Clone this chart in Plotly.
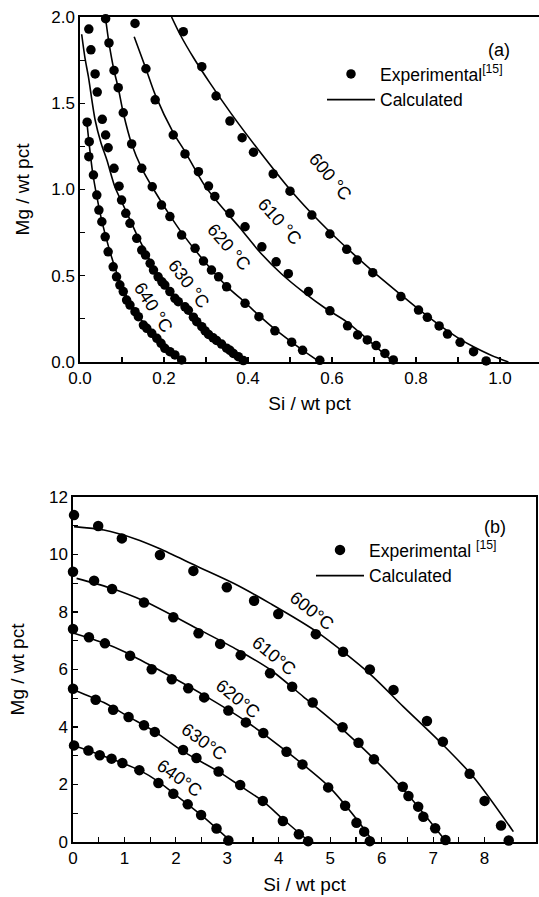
import plotly.graph_objects as go

# ---------------- panel (a) : experimental ----------------
a600_si = [0.246,0.290,0.324,0.357,0.386,0.413,0.460,0.500,0.552,0.595,0.635,0.660,0.697,0.764,0.806,0.827,0.855,0.875,0.905,0.937,0.967]
a600_mg = [1.915,1.712,1.542,1.397,1.300,1.216,1.090,0.990,0.852,0.742,0.653,0.591,0.518,0.379,0.301,0.259,0.209,0.162,0.114,0.060,0.006]
a610_si = [0.131,0.157,0.179,0.222,0.250,0.282,0.306,0.321,0.357,0.393,0.433,0.467,0.496,0.544,0.595,0.637,0.661,0.684,0.705,0.726,0.746]
a610_mg = [1.963,1.700,1.520,1.316,1.206,1.103,1.020,0.960,0.862,0.784,0.668,0.581,0.512,0.408,0.297,0.210,0.157,0.128,0.095,0.050,0.012]
a620_si = [0.061,0.069,0.081,0.091,0.103,0.123,0.147,0.172,0.194,0.214,0.242,0.274,0.294,0.313,0.330,0.349,0.393,0.426,0.464,0.504,0.530,0.571]
a620_mg = [1.990,1.850,1.690,1.590,1.445,1.264,1.123,1.016,0.910,0.843,0.736,0.659,0.585,0.533,0.494,0.436,0.340,0.263,0.181,0.115,0.068,0.010]
a630_si = [0.021,0.026,0.036,0.041,0.053,0.061,0.067,0.081,0.093,0.099,0.109,0.119,0.135,0.147,0.156,0.167,0.175,0.186,0.195,0.202,0.214,0.226,0.234,0.250,0.258,0.270,0.278,0.290,0.298,0.306,0.317,0.325,0.337,0.349,0.357,0.365,0.377,0.389]
a630_mg = [1.930,1.810,1.670,1.565,1.407,1.316,1.242,1.123,1.019,0.939,0.862,0.804,0.717,0.649,0.620,0.572,0.533,0.494,0.465,0.446,0.408,0.369,0.350,0.320,0.300,0.260,0.234,0.205,0.180,0.160,0.140,0.125,0.104,0.080,0.068,0.050,0.031,0.008]
a640_si = [0.017,0.022,0.021,0.032,0.040,0.045,0.052,0.060,0.067,0.079,0.087,0.095,0.103,0.111,0.119,0.131,0.139,0.151,0.159,0.171,0.183,0.193,0.202,0.214,0.226,0.242]
a640_mg = [1.390,1.277,1.190,1.084,0.968,0.881,0.813,0.726,0.639,0.552,0.494,0.446,0.408,0.359,0.330,0.292,0.263,0.214,0.195,0.166,0.137,0.108,0.079,0.060,0.041,0.012]

# ---------------- panel (a) : calculated ----------------
c600_si = [0.218,0.238,0.270,0.310,0.360,0.420,0.500,0.550,0.600,0.650,0.700,0.764,0.800,0.855,0.900,0.937,0.980,1.020]
c600_mg = [2.000,1.900,1.765,1.615,1.440,1.245,1.000,0.865,0.742,0.628,0.520,0.390,0.318,0.215,0.140,0.088,0.038,0.000]
c610_si = [0.129,0.157,0.179,0.222,0.250,0.295,0.330,0.380,0.429,0.480,0.532,0.585,0.635,0.690,0.746]
c610_mg = [1.886,1.700,1.550,1.330,1.220,1.030,0.920,0.780,0.635,0.510,0.405,0.310,0.233,0.120,0.000]
c620_si = [0.061,0.069,0.081,0.091,0.103,0.123,0.147,0.178,0.214,0.242,0.294,0.349,0.393,0.426,0.464,0.504,0.535,0.571]
c620_mg = [1.990,1.850,1.690,1.590,1.445,1.264,1.123,0.990,0.850,0.750,0.590,0.440,0.345,0.270,0.190,0.115,0.060,0.000]
c630_si = [0.004,0.012,0.020,0.036,0.050,0.064,0.083,0.099,0.120,0.135,0.160,0.186,0.210,0.235,0.260,0.290,0.320,0.350,0.389]
c630_mg = [1.900,1.760,1.654,1.403,1.270,1.171,1.016,0.930,0.820,0.740,0.620,0.500,0.415,0.350,0.280,0.205,0.140,0.075,0.000]
c640_si = [0.016,0.022,0.030,0.040,0.050,0.060,0.075,0.090,0.110,0.130,0.155,0.180,0.205,0.225,0.245]
c640_mg = [1.400,1.260,1.100,0.960,0.840,0.740,0.610,0.500,0.385,0.300,0.215,0.145,0.085,0.040,0.000]

# ---------------- panel (b) : experimental ----------------
b600_si = [0.02,0.49,0.95,1.69,2.34,2.99,3.52,3.99,4.72,5.25,5.77,6.23,6.88,7.19,7.71,8.00,8.32,8.47]
b600_mg = [11.37,10.99,10.56,9.98,9.43,8.86,8.39,7.93,7.23,6.62,6.00,5.29,4.21,3.49,2.37,1.43,0.57,0.05]
b610_si = [0.00,0.41,0.76,1.38,1.95,2.44,2.86,3.26,3.83,4.26,4.66,5.24,5.55,5.85,6.41,6.52,6.71,6.81,7.04,7.24]
b610_mg = [9.40,9.09,8.80,8.33,7.82,7.26,6.89,6.50,5.87,5.40,4.85,3.99,3.45,2.88,1.92,1.60,1.23,0.88,0.48,0.07]
b620_si = [0.00,0.31,0.62,1.11,1.53,1.92,2.24,2.55,3.02,3.36,3.70,4.15,4.46,4.96,5.29,5.51,5.66,5.77]
b620_mg = [7.41,7.12,6.91,6.48,6.01,5.66,5.35,5.03,4.57,4.16,3.79,3.14,2.70,1.90,1.26,0.67,0.36,0.03]
b630_si = [0.00,0.44,0.78,1.08,1.38,1.59,2.14,2.40,2.83,3.25,3.69,4.08,4.39,4.57]
b630_mg = [5.33,4.95,4.60,4.35,4.06,3.83,3.20,2.92,2.45,1.98,1.43,0.73,0.27,0.03]
b640_si = [0.02,0.30,0.52,0.75,0.96,1.29,1.66,1.95,2.23,2.49,2.79,3.02]
b640_mg = [3.36,3.18,3.02,2.90,2.75,2.50,2.05,1.68,1.31,0.94,0.47,0.05]

# ---------------- panel (b) : calculated ----------------
d600_si = [0.02,0.60,1.20,1.69,2.40,3.12,3.83,4.74,5.77,6.42,7.13,7.78,8.56]
d600_mg = [10.97,10.85,10.55,10.20,9.60,9.00,8.30,7.31,5.85,4.71,3.49,2.27,0.36]
d610_si = [0.07,0.70,1.37,2.47,3.20,3.83,4.48,5.25,5.84,6.49,7.26]
d610_mg = [9.17,8.85,8.39,7.37,6.68,6.00,5.05,3.90,2.91,1.69,0.00]
d620_si = [0.02,0.60,1.00,1.53,2.55,3.36,4.15,4.96,5.51,5.84]
d620_mg = [7.26,6.92,6.62,6.12,5.10,4.20,3.15,1.95,0.80,0.00]
d630_si = [0.02,0.60,1.08,1.59,2.14,2.83,3.25,3.69,4.08,4.60]
d630_mg = [5.29,4.85,4.36,3.84,3.15,2.45,1.95,1.42,0.80,0.00]
d640_si = [0.02,0.50,0.96,1.29,1.66,1.95,2.49,3.08]
d640_mg = [3.36,3.05,2.75,2.50,2.10,1.70,0.94,0.00]

temps = ["600", "610", "620", "630", "640"]

FONT = "Liberation Sans, Arial, sans-serif"
BLACK = "#000000"

fig = go.Figure()

exp_a = [(a600_si, a600_mg), (a610_si, a610_mg), (a620_si, a620_mg), (a630_si, a630_mg), (a640_si, a640_mg)]
calc_a = [(c600_si, c600_mg), (c610_si, c610_mg), (c620_si, c620_mg), (c630_si, c630_mg), (c640_si, c640_mg)]
exp_b = [(b600_si, b600_mg), (b610_si, b610_mg), (b620_si, b620_mg), (b630_si, b630_mg), (b640_si, b640_mg)]
calc_b = [(d600_si, d600_mg), (d610_si, d610_mg), (d620_si, d620_mg), (d630_si, d630_mg), (d640_si, d640_mg)]

def add_panel(exp, calc, xa, ya, leg, expname, msize):
    for i, (sx, sy) in enumerate(exp):
        fig.add_trace(go.Scatter(x=sx, y=sy, mode="markers", xaxis=xa, yaxis=ya,
                                 marker=dict(color=BLACK, size=msize, line=dict(width=0)),
                                 name=expname, legend=leg, showlegend=(i == 0),
                                 legendrank=1, cliponaxis=False))
    for i, (sx, sy) in enumerate(calc):
        fig.add_trace(go.Scatter(x=sx, y=sy, mode="lines", xaxis=xa, yaxis=ya,
                                 line=dict(color=BLACK, width=1.6, shape="spline", smoothing=0.8),
                                 name="Calculated", legend=leg, showlegend=(i == 0),
                                 legendrank=2))

add_panel(exp_a, calc_a, "x", "y", "legend", "Experimental<sup>[15]</sup>", 9.5)
add_panel(exp_b, calc_b, "x2", "y2", "legend2", "Experimental <sup>[15]</sup>", 10.5)

# geometry (pixels) -> domains
W, H = 539, 897
ML, MR, MT, MB = 73, 0, 17, 55
PW, PH = W - ML - MR, H - MT - MB

def dx(p):
    return (p - ML) / PW

def dy(p):
    return 1 - (p - MT) / PH

axis_common = dict(showline=True, linecolor=BLACK, linewidth=1.6, ticks="inside",
                   ticklen=5, tickwidth=1.2, tickcolor=BLACK, showgrid=False, zeroline=False,
                   tickfont=dict(family=FONT, size=17, color=BLACK),
                   title_font=dict(family=FONT, size=19, color=BLACK), automargin=False)

fig.update_layout(
    width=W, height=H, margin=dict(l=ML, r=MR, t=MT, b=MB),
    paper_bgcolor="white", plot_bgcolor="white",
    font=dict(family=FONT, color=BLACK),
    xaxis=dict(domain=[dx(80), 1.0], range=[0, (539 - 80) / 420], dtick=0.2, tick0=0,
               tickformat=".1f", mirror=True, anchor="y",
               minor=dict(ticks="inside", ticklen=5, dtick=0.1, tickcolor=BLACK),
               title=dict(text="Si / wt pct", standoff=9), **axis_common),
    yaxis=dict(domain=[dy(362), dy(17)], range=[0, 2.0], dtick=0.5, tick0=0,
               tickformat=".1f", mirror=False, anchor="x",
               minor=dict(ticks="inside", ticklen=5, dtick=0.25, tickcolor=BLACK),
               title=dict(text="Mg / wt pct", standoff=17), **axis_common),
    xaxis2=dict(domain=[dx(73), dx(536)], range=[0, 9], dtick=1, tick0=0, mirror=True,
                anchor="y2",
                minor=dict(ticks="inside", ticklen=5, dtick=0.5, tickcolor=BLACK),
                title=dict(text="Si / wt pct", standoff=10), **axis_common),
    yaxis2=dict(domain=[dy(842), dy(497)], range=[0, 12], dtick=2, tick0=0, mirror=True,
                anchor="x2",
                minor=dict(ticks="inside", ticklen=5, dtick=1, tickcolor=BLACK),
                title=dict(text="Mg / wt pct", standoff=19), **axis_common),
    legend=dict(x=dx(322), y=dy(56), xanchor="left", yanchor="top", xref="paper", yref="paper",
                bgcolor="rgba(0,0,0,0)", borderwidth=0, itemwidth=48, tracegroupgap=0,
                font=dict(family=FONT, size=17.5, color=BLACK)),
    legend2=dict(x=dx(311), y=dy(532), xanchor="left", yanchor="top", xref="paper", yref="paper",
                 bgcolor="rgba(0,0,0,0)", borderwidth=0, itemwidth=48, tracegroupgap=0,
                 font=dict(family=FONT, size=17.5, color=BLACK)),
)

lab_font = dict(family=FONT, size=18, color=BLACK)
# panel letters
fig.add_annotation(text="(a)", xref="x domain", yref="y domain", x=(512 - 80) / 459, y=1 - (38 - 17) / 345,
                   showarrow=False, font=dict(family=FONT, size=18, color=BLACK))
fig.add_annotation(text="(b)", xref="x2 domain", yref="y2 domain", x=(508 - 73) / 463, y=1 - (515 - 497) / 345,
                   showarrow=False, font=dict(family=FONT, size=18, color=BLACK))

# curve labels, panel (a)
a_lab = [(0.597, 1.075, 50), (0.474, 0.815, 48), (0.354, 0.665, 49), (0.259, 0.452, 53), (0.174, 0.320, 57)]
for t, (lx, ly, ang) in zip(temps, a_lab):
    fig.add_annotation(text=f"{t} °C", x=lx, y=ly, xref="x", yref="y", textangle=ang,
                       showarrow=False, font=lab_font)
# curve labels, panel (b)
b_lab = [(4.65, 8.05, 39), (3.91, 6.48, 39), (3.21, 4.99, 39), (2.55, 3.49, 36), (2.06, 2.21, 36)]
for t, (lx, ly, ang) in zip(temps, b_lab):
    fig.add_annotation(text=f"{t}°C", x=lx, y=ly, xref="x2", yref="y2", textangle=ang,
                       showarrow=False, font=lab_font)

fig.write_html("out.html", config={"displayModeBar": False, "staticPlot": True},
               post_script="document.body.style.margin='0px';")
